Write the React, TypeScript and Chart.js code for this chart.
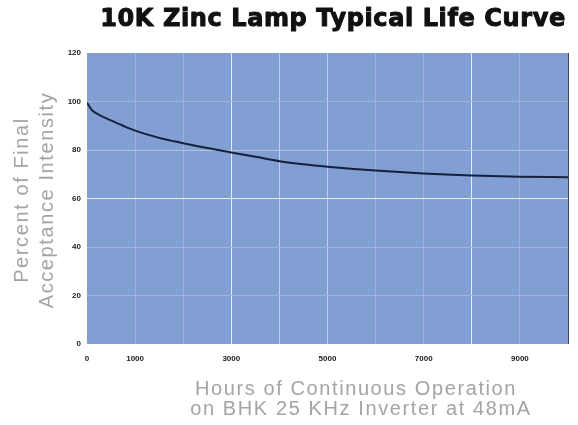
import React, { useEffect, useRef } from "react";
import { Chart, registerables } from "chart.js";

Chart.register(...registerables);

const chartTitle = "10K Zinc Lamp Typical Life Curve";
const yTitleLines = ["Percent of Final", "Acceptance Intensity"];
const xTitleLines = ["Hours of Continuous Operation", "on BHK 25 KHz Inverter at 48mA"];

const hours = [0, 100, 250, 500, 750, 1000, 1500, 2000, 2500, 3000, 3500, 4000, 4500, 5000, 6000, 7000, 8000, 9000, 10000];
const intensity = [99.5, 96.5, 94.5, 92.2, 90.0, 88.0, 85.0, 82.8, 80.8, 79.0, 77.2, 75.4, 74.1, 73.1, 71.5, 70.3, 69.5, 69.0, 68.8];
const xLabelled = [0, 1000, 3000, 5000, 7000, 9000];
const brightX = [3000, 8000];
const midX = [4000, 5000];
const brightY = [60];

const decorPlugin = {
  id: "decor",
  beforeDraw(chart: any) {
    const { ctx, chartArea } = chart;
    ctx.save();
    ctx.fillStyle = "#ffffff";
    ctx.fillRect(0, 0, chart.width, chart.height);
    ctx.fillStyle = "#819fd3";
    ctx.fillRect(chartArea.left, chartArea.top, chartArea.right - chartArea.left, chartArea.bottom - chartArea.top);
    ctx.restore();
  },
  afterDraw(chart: any) {
    const { ctx, chartArea } = chart;
    ctx.save();
    ctx.strokeStyle = "#3a4660";
    ctx.lineWidth = 1;
    ctx.beginPath();
    ctx.moveTo(chartArea.right + 0.5, chartArea.top);
    ctx.lineTo(chartArea.right + 0.5, chartArea.bottom);
    ctx.stroke();

    ctx.fillStyle = "#111111";
    ctx.strokeStyle = "#111111";
    ctx.lineWidth = 1;
    ctx.lineJoin = "round";
    ctx.font = "bold 24px 'DejaVu Sans'";
    ctx.textAlign = "center";
    ctx.textBaseline = "middle";
    (ctx as any).letterSpacing = "0.6px";
    ctx.fillText(chartTitle, 333, 20);
    ctx.strokeText(chartTitle, 333, 20);

    ctx.fillStyle = "#a4a4a4";
    ctx.font = "20px 'Liberation Sans'";
    (ctx as any).letterSpacing = "1.6px";
    ctx.save();
    ctx.translate(22, 200);
    ctx.rotate(-Math.PI / 2);
    ctx.fillText(yTitleLines[0], 0, 0);
    ctx.restore();
    ctx.save();
    ctx.translate(47, 200);
    ctx.rotate(-Math.PI / 2);
    ctx.fillText(yTitleLines[1], 0, 0);
    ctx.restore();

    ctx.fillText(xTitleLines[0], 356, 389);
    ctx.fillText(xTitleLines[1], 361, 409);
    ctx.restore();
  },
};

export default function App() {
  const ref = useRef<HTMLCanvasElement | null>(null);
  useEffect(() => {
    document.body.style.margin = "0";
    const chart = new Chart(ref.current as HTMLCanvasElement, {
      type: "line",
      data: {
        datasets: [
          {
            data: hours.map((h, i) => ({ x: h, y: intensity[i] })),
            borderColor: "#16203c",
            borderWidth: 2,
            pointRadius: 0,
            cubicInterpolationMode: "monotone",
            fill: false,
          },
        ],
      },
      options: {
        animation: false,
        responsive: false,
        maintainAspectRatio: false,
        layout: { padding: { top: 53, right: 2, left: 0, bottom: 0 } },
        plugins: { legend: { display: false }, tooltip: { enabled: false }, title: { display: false } },
        scales: {
          x: {
            type: "linear",
            min: 0,
            max: 10000,
            afterFit: (s: any) => {
              s.height = 81;
            },
            afterBuildTicks: (s: any) => {
              const t = [];
              for (let v = 0; v <= 10000; v += 1000) t.push({ value: v });
              s.ticks = t;
            },
            grid: {
              drawTicks: false,
              color: (c: any) => {
                const v = c.tick ? c.tick.value : -1;
                if (v === 0 || v === 10000) return "rgba(0,0,0,0)";
                if (brightX.includes(v)) return "#e6edfa";
                if (midX.includes(v)) return "#c2cfea";
                return "#a3b3d3";
              },
              lineWidth: 1,
            },
            border: { display: false },
            ticks: {
              autoSkip: false,
              maxRotation: 0,
              padding: 10,
              color: "#222222",
              font: { family: "'Liberation Sans'", size: 8, weight: "bold" },
              callback: (v: any) => (xLabelled.includes(Number(v)) ? String(v) : ""),
            },
          },
          y: {
            min: 0,
            max: 120,
            afterFit: (s: any) => {
              s.width = 87;
            },
            ticks: {
              stepSize: 20,
              padding: 6,
              color: "#222222",
              font: { family: "'Liberation Sans'", size: 8, weight: "bold" },
            },
            grid: {
              drawTicks: false,
              color: (c: any) => {
                const v = c.tick ? c.tick.value : -1;
                if (v === 0 || v === 120) return "rgba(0,0,0,0)";
                if (brightY.includes(v)) return "#e6edfa";
                if (v === 80) return "#b4c3e2";
                return "#a3b3d3";
              },
            },
            border: { display: false },
          },
        },
      },
      plugins: [decorPlugin],
    } as any);
    return () => chart.destroy();
  }, []);
  return (
    <div style={{ position: "fixed", left: 0, top: 0, width: 578, height: 425, background: "#fff" }}>
      <canvas ref={ref} width={578} height={425} style={{ width: 578, height: 425 }} />
    </div>
  );
}
